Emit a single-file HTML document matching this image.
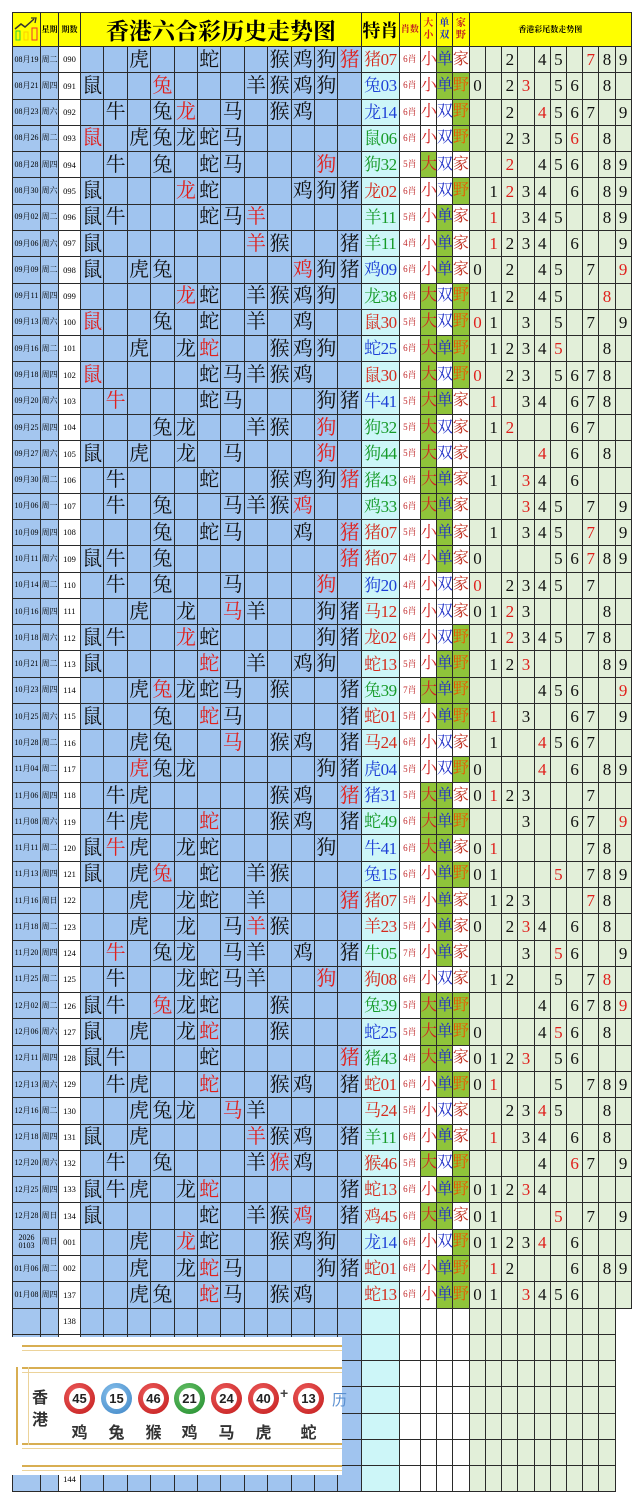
<!DOCTYPE html>
<html><head><meta charset="utf-8"><style>
body{margin:0;width:643px;height:1500px;background:#fff;position:relative;overflow:hidden}
table{position:absolute;left:12px;top:12px;border-collapse:collapse;table-layout:fixed;width:619px}
td,th{border:1px solid #2a2a2a;padding:0;text-align:center;vertical-align:middle;overflow:hidden;white-space:nowrap;font-family:"Liberation Serif","Noto Serif CJK SC",serif;line-height:1}
th{background:#ffff00;height:28px}
tr.r{height:26.29px}
td:nth-child(-n+2){font-size:8px}
td:nth-child(3){font-size:8.5px}
td:nth-child(n+4):nth-child(-n+15){font-size:20px;color:#111}
td:nth-child(16){font-size:17px;letter-spacing:-0.5px}
td:nth-child(17){font-size:9px;color:#c0282a}
td:nth-child(18){font-size:16px;color:#d42020}
td:nth-child(19){font-size:16px;color:#2030c8}
td:nth-child(20){font-size:16px;color:#c03020}
td:nth-child(n+21){font-size:17px;color:#111}
td.g{background:#8fc43a}
td:nth-child(20).g{color:#e85a00}
i{font-style:normal;color:#e0201c}
.rd{color:#d42a1c!important}.bl{color:#1d3fd6!important}.gn{color:#169a28!important}
.ov{position:absolute;left:12px;top:1337px;width:330px;height:138px;background:#fff}
.ln{position:absolute;left:10px;right:0;height:3px;border-top:2px solid #d8ae52;border-bottom:1px solid #ecd39a}
.ball{position:absolute;width:31px;height:31px;border-radius:50%;top:46px}
.ball span{position:absolute;left:5px;top:5px;width:21px;height:21px;border-radius:50%;background:#fff;font:bold 13px/21px "Liberation Sans",sans-serif;text-align:center;color:#222}
.R{background:radial-gradient(circle at 40% 35%,#f06060,#c01818)}
.B{background:radial-gradient(circle at 40% 35%,#8cc4ee,#3a82c4)}
.G{background:radial-gradient(circle at 40% 35%,#6cc46c,#1e8a2a)}
.zl{position:absolute;top:82px;font:bold 16px "Noto Sans CJK SC",sans-serif;color:#333;width:31px;text-align:center}
</style></head><body>
<table>
<colgroup><col style="width:28px;background:#a4c6ef"><col style="width:18px;background:#a4c6ef"><col style="width:22px;background:#fff">
<col span="12" style="width:23.42px;background:#a0c4ef"><col style="width:38px;background:#cdf6f8"><col style="width:21px;background:#fff"><col style="width:16px;background:#fff"><col style="width:16px;background:#fff"><col style="width:17px;background:#fff"><col span="10" style="width:16.2px;background:#e2efd9"></colgroup>
<tr><th><svg width="26" height="26" viewBox="0 0 26 26"><polyline points="1,14 7,9 11,12 20,4" fill="none" stroke="#333" stroke-width="1.5"/><path d="M17,3 L22,3 L21,8" fill="none" stroke="#333" stroke-width="1.3"/><rect x="2" y="16" width="4" height="9" fill="none" stroke="#3c3"/><rect x="10" y="17" width="4" height="8" fill="none" stroke="#fc0"/><rect x="18" y="13" width="5" height="12" fill="none" stroke="#e33"/></svg></th><th style="font-size:8px">星期</th><th style="font-size:8px">期数</th><th colspan="12" style="font:bold 23px 'Noto Serif CJK SC',serif">香港六合彩历史走势图</th><th style="font:bold 18px 'Noto Serif CJK SC',serif">特肖</th><th style="font-size:9px;color:#c02020">肖数</th><th style="font-size:10px;color:#d02020;line-height:1.2">大<br>小</th><th style="font-size:10px;color:#2030c0;line-height:1.2">单<br>双</th><th style="font-size:10px;color:#c02020;line-height:1.2">家<br>野</th><th colspan="10" style="font:bold 8px 'Noto Serif CJK SC',serif">香港彩尾数走势图</th></tr>
<tr class="r"><td>08月19<td>周二<td>090<td><td><td>虎<td><td><td>蛇<td><td><td>猴<td>鸡<td>狗<td><i>猪</i><td class="rd">猪07<td>6肖<td>小<td class="g">单<td>家<td><td><td>2<td><td>4<td>5<td><td><i>7</i><td>8<td>9</tr>
<tr class="r"><td>08月21<td>周四<td>091<td>鼠<td><td><td><i>兔</i><td><td><td><td>羊<td>猴<td>鸡<td>狗<td><td class="bl">兔03<td>6肖<td>小<td class="g">单<td class="g">野<td>0<td><td>2<td><i>3</i><td><td>5<td>6<td><td>8<td></tr>
<tr class="r"><td>08月23<td>周六<td>092<td><td>牛<td><td>兔<td><i>龙</i><td><td>马<td><td>猴<td>鸡<td><td><td class="bl">龙14<td>6肖<td>小<td>双<td class="g">野<td><td><td>2<td><td><i>4</i><td>5<td>6<td>7<td><td>9</tr>
<tr class="r"><td>08月26<td>周二<td>093<td><i>鼠</i><td><td>虎<td>兔<td>龙<td>蛇<td>马<td><td><td><td><td><td class="gn">鼠06<td>6肖<td>小<td>双<td class="g">野<td><td><td>2<td>3<td><td>5<td><i>6</i><td><td>8<td></tr>
<tr class="r"><td>08月28<td>周四<td>094<td><td>牛<td><td>兔<td><td>蛇<td>马<td><td><td><td><i>狗</i><td><td class="gn">狗32<td>5肖<td class="g">大<td>双<td>家<td><td><td><i>2</i><td><td>4<td>5<td>6<td><td>8<td>9</tr>
<tr class="r"><td>08月30<td>周六<td>095<td>鼠<td><td><td><td><i>龙</i><td>蛇<td><td><td><td>鸡<td>狗<td>猪<td class="rd">龙02<td>6肖<td>小<td>双<td class="g">野<td><td>1<td><i>2</i><td>3<td>4<td><td>6<td><td>8<td>9</tr>
<tr class="r"><td>09月02<td>周二<td>096<td>鼠<td>牛<td><td><td><td>蛇<td>马<td><i>羊</i><td><td><td><td><td class="gn">羊11<td>5肖<td>小<td class="g">单<td>家<td><td><i>1</i><td><td>3<td>4<td>5<td><td><td>8<td>9</tr>
<tr class="r"><td>09月06<td>周六<td>097<td>鼠<td><td><td><td><td><td><td><i>羊</i><td>猴<td><td><td>猪<td class="gn">羊11<td>4肖<td>小<td class="g">单<td>家<td><td><i>1</i><td>2<td>3<td>4<td><td>6<td><td><td>9</tr>
<tr class="r"><td>09月09<td>周二<td>098<td>鼠<td><td>虎<td>兔<td><td><td><td><td><td><i>鸡</i><td>狗<td>猪<td class="bl">鸡09<td>6肖<td>小<td class="g">单<td>家<td>0<td><td>2<td><td>4<td>5<td><td>7<td><td><i>9</i></tr>
<tr class="r"><td>09月11<td>周四<td>099<td><td><td><td><td><i>龙</i><td>蛇<td><td>羊<td>猴<td>鸡<td>狗<td><td class="gn">龙38<td>6肖<td class="g">大<td>双<td class="g">野<td><td>1<td>2<td><td>4<td>5<td><td><td><i>8</i><td></tr>
<tr class="r"><td>09月13<td>周六<td>100<td><i>鼠</i><td><td><td>兔<td><td>蛇<td><td>羊<td><td>鸡<td><td><td class="rd">鼠30<td>5肖<td class="g">大<td>双<td class="g">野<td><i>0</i><td>1<td><td>3<td><td>5<td><td>7<td><td>9</tr>
<tr class="r"><td>09月16<td>周二<td>101<td><td><td>虎<td><td>龙<td><i>蛇</i><td><td><td>猴<td>鸡<td>狗<td><td class="bl">蛇25<td>6肖<td class="g">大<td class="g">单<td class="g">野<td><td>1<td>2<td>3<td>4<td><i>5</i><td><td><td>8<td></tr>
<tr class="r"><td>09月18<td>周四<td>102<td><i>鼠</i><td><td><td><td><td>蛇<td>马<td>羊<td>猴<td>鸡<td><td><td class="rd">鼠30<td>6肖<td class="g">大<td>双<td class="g">野<td><i>0</i><td><td>2<td>3<td><td>5<td>6<td>7<td>8<td></tr>
<tr class="r"><td>09月20<td>周六<td>103<td><td><i>牛</i><td><td><td><td>蛇<td>马<td><td><td><td>狗<td>猪<td class="bl">牛41<td>5肖<td class="g">大<td class="g">单<td>家<td><td><i>1</i><td><td>3<td>4<td><td>6<td>7<td>8<td></tr>
<tr class="r"><td>09月25<td>周四<td>104<td><td><td><td>兔<td>龙<td><td><td>羊<td>猴<td><td><i>狗</i><td><td class="gn">狗32<td>5肖<td class="g">大<td>双<td>家<td><td>1<td><i>2</i><td><td><td><td>6<td>7<td><td></tr>
<tr class="r"><td>09月27<td>周六<td>105<td>鼠<td><td>虎<td><td>龙<td><td>马<td><td><td><td><i>狗</i><td><td class="gn">狗44<td>5肖<td class="g">大<td>双<td>家<td><td><td><td><td><i>4</i><td><td>6<td><td>8<td></tr>
<tr class="r"><td>09月30<td>周二<td>106<td><td>牛<td><td><td><td>蛇<td><td><td>猴<td>鸡<td>狗<td><i>猪</i><td class="gn">猪43<td>6肖<td class="g">大<td class="g">单<td>家<td><td>1<td><td><i>3</i><td>4<td><td>6<td><td><td></tr>
<tr class="r"><td>10月06<td>周一<td>107<td><td>牛<td><td>兔<td><td><td>马<td>羊<td>猴<td><i>鸡</i><td><td><td class="gn">鸡33<td>6肖<td class="g">大<td class="g">单<td>家<td><td><td><td><i>3</i><td>4<td>5<td><td>7<td><td>9</tr>
<tr class="r"><td>10月09<td>周四<td>108<td><td><td><td>兔<td><td>蛇<td>马<td><td><td>鸡<td><td><i>猪</i><td class="rd">猪07<td>5肖<td>小<td class="g">单<td>家<td><td>1<td><td>3<td>4<td>5<td><td><i>7</i><td><td>9</tr>
<tr class="r"><td>10月11<td>周六<td>109<td>鼠<td>牛<td><td>兔<td><td><td><td><td><td><td><td><i>猪</i><td class="rd">猪07<td>4肖<td>小<td class="g">单<td>家<td>0<td><td><td><td><td>5<td>6<td><i>7</i><td>8<td>9</tr>
<tr class="r"><td>10月14<td>周二<td>110<td><td>牛<td><td>兔<td><td><td>马<td><td><td><td><i>狗</i><td><td class="bl">狗20<td>4肖<td>小<td>双<td>家<td><i>0</i><td><td>2<td>3<td>4<td>5<td><td>7<td><td></tr>
<tr class="r"><td>10月16<td>周四<td>111<td><td><td>虎<td><td>龙<td><td><i>马</i><td>羊<td><td><td>狗<td>猪<td class="rd">马12<td>6肖<td>小<td>双<td>家<td>0<td>1<td><i>2</i><td>3<td><td><td><td><td>8<td></tr>
<tr class="r"><td>10月18<td>周六<td>112<td>鼠<td>牛<td><td><td><i>龙</i><td>蛇<td><td><td><td><td>狗<td>猪<td class="rd">龙02<td>6肖<td>小<td>双<td class="g">野<td><td>1<td><i>2</i><td>3<td>4<td>5<td><td>7<td>8<td></tr>
<tr class="r"><td>10月21<td>周二<td>113<td>鼠<td><td><td><td><td><i>蛇</i><td><td>羊<td><td>鸡<td>狗<td><td class="rd">蛇13<td>5肖<td>小<td class="g">单<td class="g">野<td><td>1<td>2<td><i>3</i><td><td><td><td><td>8<td>9</tr>
<tr class="r"><td>10月23<td>周四<td>114<td><td><td>虎<td><i>兔</i><td>龙<td>蛇<td>马<td><td>猴<td><td><td>猪<td class="gn">兔39<td>7肖<td class="g">大<td class="g">单<td class="g">野<td><td><td><td><td>4<td>5<td>6<td><td><td><i>9</i></tr>
<tr class="r"><td>10月25<td>周六<td>115<td>鼠<td><td><td>兔<td><td><i>蛇</i><td>马<td><td><td><td><td>猪<td class="rd">蛇01<td>5肖<td>小<td class="g">单<td class="g">野<td><td><i>1</i><td><td>3<td><td><td>6<td>7<td><td>9</tr>
<tr class="r"><td>10月28<td>周二<td>116<td><td><td>虎<td>兔<td><td><td><i>马</i><td><td>猴<td>鸡<td><td>猪<td class="rd">马24<td>6肖<td>小<td>双<td>家<td><td>1<td><td><td><i>4</i><td>5<td>6<td>7<td><td></tr>
<tr class="r"><td>11月04<td>周二<td>117<td><td><td><i>虎</i><td>兔<td>龙<td><td><td><td><td><td>狗<td>猪<td class="bl">虎04<td>5肖<td>小<td>双<td class="g">野<td>0<td><td><td><td><i>4</i><td><td>6<td><td>8<td>9</tr>
<tr class="r"><td>11月06<td>周四<td>118<td><td>牛<td>虎<td><td><td><td><td><td>猴<td>鸡<td><td><i>猪</i><td class="bl">猪31<td>5肖<td class="g">大<td class="g">单<td>家<td>0<td><i>1</i><td>2<td>3<td><td><td><td>7<td><td></tr>
<tr class="r"><td>11月08<td>周六<td>119<td><td>牛<td>虎<td><td><td><i>蛇</i><td><td><td>猴<td>鸡<td><td>猪<td class="gn">蛇49<td>6肖<td class="g">大<td class="g">单<td class="g">野<td><td><td><td>3<td><td><td>6<td>7<td><td><i>9</i></tr>
<tr class="r"><td>11月11<td>周二<td>120<td>鼠<td><i>牛</i><td>虎<td><td>龙<td>蛇<td><td><td><td><td>狗<td><td class="bl">牛41<td>6肖<td class="g">大<td class="g">单<td>家<td>0<td><i>1</i><td><td><td><td><td><td>7<td>8<td></tr>
<tr class="r"><td>11月13<td>周四<td>121<td>鼠<td><td>虎<td><i>兔</i><td><td>蛇<td><td>羊<td>猴<td><td><td><td class="bl">兔15<td>6肖<td>小<td class="g">单<td class="g">野<td>0<td>1<td><td><td><td><i>5</i><td><td>7<td>8<td>9</tr>
<tr class="r"><td>11月16<td>周日<td>122<td><td><td>虎<td><td>龙<td>蛇<td><td>羊<td><td><td><td><i>猪</i><td class="rd">猪07<td>5肖<td>小<td class="g">单<td>家<td><td>1<td>2<td>3<td><td><td><td><i>7</i><td>8<td></tr>
<tr class="r"><td>11月18<td>周二<td>123<td><td><td>虎<td><td>龙<td><td>马<td><i>羊</i><td>猴<td><td><td><td class="rd">羊23<td>5肖<td>小<td class="g">单<td>家<td>0<td><td>2<td><i>3</i><td>4<td><td>6<td><td>8<td></tr>
<tr class="r"><td>11月20<td>周四<td>124<td><td><i>牛</i><td><td>兔<td>龙<td><td>马<td>羊<td><td>鸡<td><td>猪<td class="gn">牛05<td>7肖<td>小<td class="g">单<td>家<td><td><td><td>3<td><td><i>5</i><td>6<td><td><td>9</tr>
<tr class="r"><td>11月25<td>周二<td>125<td><td>牛<td><td><td>龙<td>蛇<td>马<td>羊<td><td><td><i>狗</i><td><td class="rd">狗08<td>6肖<td>小<td>双<td>家<td><td>1<td>2<td><td><td>5<td><td>7<td><i>8</i><td></tr>
<tr class="r"><td>12月02<td>周二<td>126<td>鼠<td>牛<td><td><i>兔</i><td>龙<td>蛇<td><td><td>猴<td><td><td><td class="gn">兔39<td>5肖<td class="g">大<td class="g">单<td class="g">野<td><td><td><td><td>4<td><td>6<td>7<td>8<td><i>9</i></tr>
<tr class="r"><td>12月06<td>周六<td>127<td>鼠<td><td>虎<td><td>龙<td><i>蛇</i><td><td><td>猴<td><td><td><td class="bl">蛇25<td>5肖<td class="g">大<td class="g">单<td class="g">野<td>0<td><td><td><td>4<td><i>5</i><td>6<td><td>8<td></tr>
<tr class="r"><td>12月11<td>周四<td>128<td>鼠<td>牛<td><td><td><td>蛇<td><td><td><td><td><td><i>猪</i><td class="gn">猪43<td>4肖<td class="g">大<td class="g">单<td>家<td>0<td>1<td>2<td><i>3</i><td><td>5<td>6<td><td><td></tr>
<tr class="r"><td>12月13<td>周六<td>129<td><td>牛<td>虎<td><td><td><i>蛇</i><td><td><td>猴<td>鸡<td><td>猪<td class="rd">蛇01<td>6肖<td>小<td class="g">单<td class="g">野<td>0<td><i>1</i><td><td><td><td>5<td><td>7<td>8<td>9</tr>
<tr class="r"><td>12月16<td>周二<td>130<td><td><td>虎<td>兔<td>龙<td><td><i>马</i><td>羊<td><td><td><td><td class="rd">马24<td>5肖<td>小<td>双<td>家<td><td><td>2<td>3<td><i>4</i><td>5<td><td><td>8<td></tr>
<tr class="r"><td>12月18<td>周四<td>131<td>鼠<td><td>虎<td><td><td><td><td><i>羊</i><td>猴<td>鸡<td><td>猪<td class="gn">羊11<td>6肖<td>小<td class="g">单<td>家<td><td><i>1</i><td><td>3<td>4<td><td>6<td><td>8<td></tr>
<tr class="r"><td>12月20<td>周六<td>132<td><td>牛<td><td>兔<td><td><td><td>羊<td><i>猴</i><td>鸡<td><td><td class="rd">猴46<td>5肖<td class="g">大<td>双<td class="g">野<td><td><td><td><td>4<td><td><i>6</i><td>7<td><td>9</tr>
<tr class="r"><td>12月25<td>周四<td>133<td>鼠<td>牛<td>虎<td><td>龙<td><i>蛇</i><td><td><td><td><td><td>猪<td class="rd">蛇13<td>6肖<td>小<td class="g">单<td class="g">野<td>0<td>1<td>2<td><i>3</i><td>4<td><td><td><td><td></tr>
<tr class="r"><td>12月28<td>周日<td>134<td>鼠<td><td><td><td><td>蛇<td><td>羊<td>猴<td><i>鸡</i><td><td>猪<td class="rd">鸡45<td>6肖<td class="g">大<td class="g">单<td>家<td>0<td>1<td><td><td><td><i>5</i><td><td>7<td><td>9</tr>
<tr class="r"><td style="line-height:1.1">2026<br>0103<td>周日<td>001<td><td><td>虎<td><td><i>龙</i><td>蛇<td><td><td>猴<td>鸡<td>狗<td><td class="bl">龙14<td>6肖<td>小<td>双<td class="g">野<td>0<td>1<td>2<td>3<td><i>4</i><td><td>6<td><td><td></tr>
<tr class="r"><td>01月06<td>周二<td>002<td><td><td>虎<td><td>龙<td><i>蛇</i><td>马<td><td><td><td>狗<td>猪<td class="rd">蛇01<td>6肖<td>小<td class="g">单<td class="g">野<td><td><i>1</i><td>2<td><td><td><td>6<td><td>8<td>9</tr>
<tr class="r"><td>01月08<td>周四<td>137<td><td><td>虎<td>兔<td><td><i>蛇</i><td>马<td><td>猴<td>鸡<td><td><td class="rd">蛇13<td>6肖<td>小<td class="g">单<td class="g">野<td>0<td>1<td><td><i>3</i><td>4<td>5<td>6<td><td><td></tr>
<tr class="r"><td><td><td>138<td><td><td><td><td><td><td><td><td><td><td><td><td><td><td><td><td><td><td><td><td><td><td><td><td><td></tr>
<tr class="r"><td><td><td>139<td><td><td><td><td><td><td><td><td><td><td><td><td><td><td><td><td><td><td><td><td><td><td><td><td><td></tr>
<tr class="r"><td><td><td>140<td><td><td><td><td><td><td><td><td><td><td><td><td><td><td><td><td><td><td><td><td><td><td><td><td><td></tr>
<tr class="r"><td><td><td>141<td><td><td><td><td><td><td><td><td><td><td><td><td><td><td><td><td><td><td><td><td><td><td><td><td><td></tr>
<tr class="r"><td><td><td>142<td><td><td><td><td><td><td><td><td><td><td><td><td><td><td><td><td><td><td><td><td><td><td><td><td><td></tr>
<tr class="r"><td><td><td>143<td><td><td><td><td><td><td><td><td><td><td><td><td><td><td><td><td><td><td><td><td><td><td><td><td><td></tr>
<tr class="r"><td><td><td>144<td><td><td><td><td><td><td><td><td><td><td><td><td><td><td><td><td><td><td><td><td><td><td><td><td><td></tr>
</table>
<div class="ov">
<div class="ln" style="top:8px"></div>
<div class="ln" style="top:30px"></div>
<div class="ln" style="top:106px"></div>
<div class="ln" style="top:128px"></div>
<div style="position:absolute;left:4px;top:30px;width:10px;height:78px;border-left:2px solid #d8ae52;border-right:1px solid #ecd39a"></div>
<div style="position:absolute;left:20px;top:48px;font:bold 16px 'Noto Sans CJK SC',sans-serif;color:#333;line-height:22px">香<br>港</div>
<div class="ball R" style="left:52px"><span>45</span></div>
<div class="ball B" style="left:89px"><span>15</span></div>
<div class="ball R" style="left:126px"><span>46</span></div>
<div class="ball G" style="left:162px"><span>21</span></div>
<div class="ball R" style="left:199px"><span>24</span></div>
<div class="ball R" style="left:236px"><span>40</span></div>
<div style="position:absolute;left:268px;top:48px;font:bold 14px 'Liberation Sans',sans-serif;color:#444">+</div>
<div class="ball R" style="left:281px"><span>13</span></div>
<div class="zl" style="left:52px">鸡</div><div class="zl" style="left:89px">兔</div><div class="zl" style="left:126px">猴</div><div class="zl" style="left:162px">鸡</div><div class="zl" style="left:199px">马</div><div class="zl" style="left:236px">虎</div><div class="zl" style="left:281px">蛇</div>
<div style="position:absolute;left:320px;top:52px;font:15px 'Noto Sans CJK SC',sans-serif;color:#5a8fd0">历</div>
</div>
</body></html>
